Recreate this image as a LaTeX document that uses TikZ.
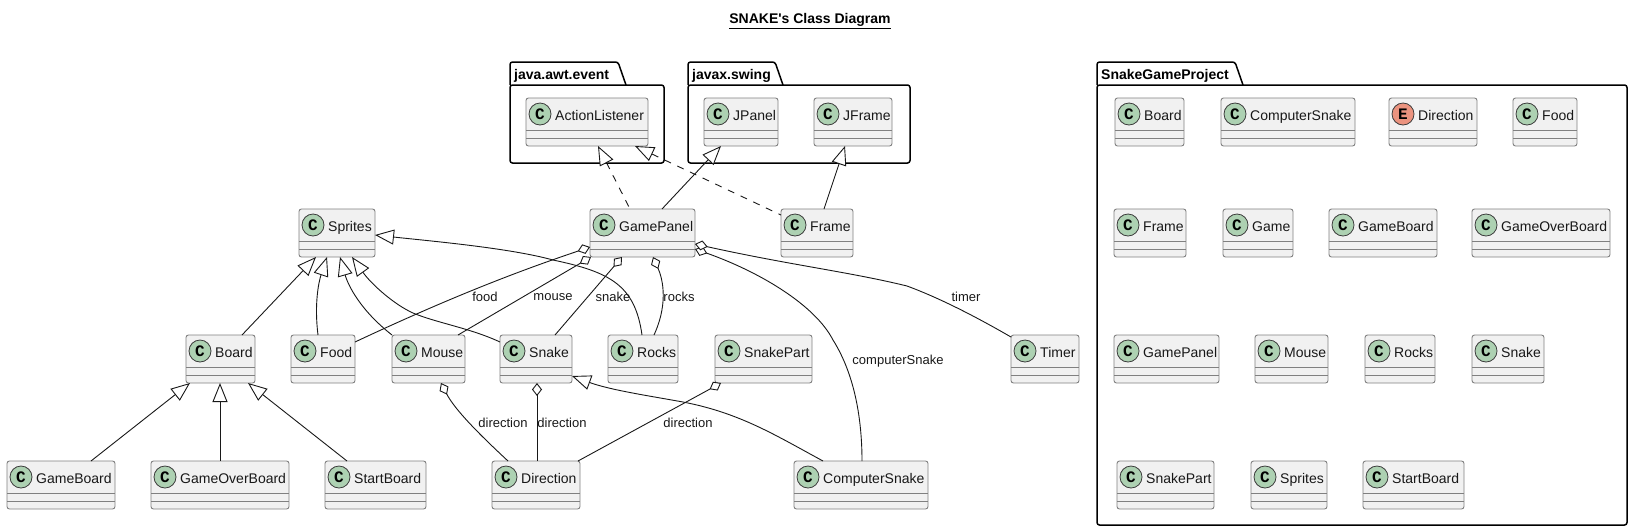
\documentclass[tikz,border=0pt]{standalone}
\usepackage{fontspec}
\setmainfont{Liberation Sans}
\newfontfamily\spotfont{Liberation Mono}
\usetikzlibrary{arrows.meta}
\definecolor{boxfill}{HTML}{F1F1F1}
\definecolor{boxline}{HTML}{808080}
\definecolor{ink}{HTML}{181818}
\definecolor{classspot}{HTML}{ADD1B2}
\definecolor{enumspot}{HTML}{EB937F}
\tikzstyle{class box}=[
    draw=boxline, fill=boxfill, line width=.9pt, rounded corners=2.5pt,
    anchor=north west, minimum height=48pt, inner sep=0pt, outer sep=0pt,
]
\tikzstyle{class rule}=[draw=boxline, line width=.9pt]
\tikzstyle{class spot}=[
    circle, draw=ink!85, line width=.8pt, minimum size=22pt, inner sep=0pt,
    font=\spotfont\bfseries\fontsize{16}{16}\selectfont,
]
\tikzstyle{class name}=[anchor=base west, inner sep=0pt, text=ink, font=\fontsize{14}{16}\selectfont]
\tikzstyle{package body}=[
    draw=black, line width=1.5pt, rounded corners=2.5pt,
    anchor=north west, inner sep=0pt, outer sep=0pt,
]
\tikzstyle{package name}=[anchor=base west, inner sep=0pt, text=black, font=\bfseries\fontsize{14}{16}\selectfont]
\tikzstyle{link}=[draw=ink, line width=.9pt]
\tikzstyle{inherit}=[link, {Triangle[length=19pt,width=15pt,fill=white]}-]
\tikzstyle{realize}=[inherit, dash pattern=on 7pt off 7pt]
\tikzstyle{aggregate}=[link, {Diamond[length=13pt,width=10pt,fill=white]}-]
\tikzstyle{link label}=[inner sep=0pt, text=ink, font=\fontsize{13}{15}\selectfont]
% id, text, left, right, top, letter, colour
\newcommand{\classnode}[7]{
    \node[class box, minimum width={(#4-#3)*1pt}] (#1) at (#3,#5) {};
    \draw[class rule] ([yshift=-32pt]#1.north west) -- ([yshift=-32pt]#1.north east);
    \draw[class rule] ([yshift=-40pt]#1.north west) -- ([yshift=-40pt]#1.north east);
    \node[class spot, fill=#7] (#1-spot) at ([xshift=14pt,yshift=-16pt]#1.north west) {#6};
    \node[class name] (#1-name) at ([xshift=29pt,yshift=-22pt]#1.north west) {#2};
}
% id, text, left, right, tab right, bottom
\newcommand{\packagenode}[6]{
    \draw[black, line width=1.5pt, rounded corners=2.5pt]
        (#3,85) -- (#3,62) -- (#5-8,62) -- (#5,85);
    \node[package body, minimum width={(#4-#3)*1pt}, minimum height={(#6-85)*1pt}] (#1) at (#3,85) {};
    \node[package name] (#1-name) at (#3+4,79) {#2};
}

\begin{document}
\begin{tikzpicture}[x=1pt, y=-1pt]
    \useasboundingbox (0,0) rectangle (1632,531);
    \node[inner sep=0pt, font=\bfseries\fontsize{14}{16}\selectfont] (title) at (810,21) {\underline{SNAKE\textquotesingle s Class Diagram}};

    % packages
    \packagenode{awt}{java.awt.event}{510}{664}{626}{163}
    \packagenode{swing}{javax.swing}{688}{910}{783}{163}
    \packagenode{project}{SnakeGameProject}{1097}{1627}{1243}{525}

    % classes
    \foreach \id/\txt/\xa/\xb/\ya in {
        ActionListener/ActionListener/526/648/98, JPanel/JPanel/704/778/98, JFrame/JFrame/814/892/98,
        Sprites/Sprites/299/375/209, GamePanel/GamePanel/590/695/209, Frame/Frame/781/853/209,
        Board/Board/186/255/335, Food/Food/291/355/335, Mouse/Mouse/392/465/335, Snake/Snake/500/572/335,
        Rocks/Rocks/608/678/335, SnakePart/SnakePart/715/812/335, Timer/Timer/1011/1079/335,
        GameBoard/GameBoard/7/115/461, GameOverBoard/GameOverBoard/151/289/461, StartBoard/StartBoard/325/426/461,
        Direction/Direction/492/580/461, ComputerSnake/ComputerSnake/794/928/461,
        pBoard/Board/1115/1184/98, pComputerSnake/ComputerSnake/1221/1355/98, pFood/Food/1513/1577/98,
        pFrame/Frame/1114/1186/209, pGame/Game/1223/1293/209, pGameBoard/GameBoard/1329/1437/209, pGameOverBoard/GameOverBoard/1472/1610/209,
        pGamePanel/GamePanel/1114/1219/335, pMouse/Mouse/1255/1328/335, pRocks/Rocks/1365/1435/335, pSnake/Snake/1472/1544/335,
        pSnakePart/SnakePart/1117/1214/461, pSprites/Sprites/1251/1327/461, pStartBoard/StartBoard/1363/1464/461
    } {
        \classnode{\id}{\txt}{\xa}{\xb}{\ya}{C}{classspot}
    }
    \classnode{pDirection}{Direction}{1389}{1477}{98}{E}{enumspot}

    % links
    \draw[realize] ([xshift=72pt]ActionListener.south west) -- ([xshift=40pt]GamePanel.north west);
    \draw[realize] ([xshift=109pt]ActionListener.south west) -- ([yshift=-6pt]Frame.north west);
    \draw[inherit] ([xshift=17pt]JPanel.south west) -- ([xshift=72pt]GamePanel.north west);
    \draw[inherit] ([xshift=31pt]JFrame.south west) -- ([xshift=43pt]Frame.north west);
    \draw[inherit] ([xshift=17pt]Sprites.south west) -- ([xshift=56pt]Board.north west);
    \draw[inherit] ([xshift=28pt]Sprites.south west) .. controls (319,281) and (314,303) .. ([xshift=27pt]Food.north west);
    \draw[inherit] ([xshift=41pt]Sprites.south west) .. controls (348,285) and (360,310) .. (Mouse.north west);
    \draw[inherit] ([xshift=53pt]Sprites.south west) .. controls (372,285) and (395,305) .. (413,313)
        .. controls (437,323) and (470,328) .. ([yshift=-7pt]Snake.north west);
    \draw[inherit] ([yshift=-26pt]Sprites.north east) .. controls (430,241) and (510,248) .. (553,260)
        .. controls (610,272) and (635,285) .. ([xshift=34pt]Rocks.north west);
    \draw[inherit] ([xshift=4pt]Board.south west) -- ([xshift=84pt]GameBoard.north west);
    \draw[inherit] ([xshift=34pt]Board.south west) -- ([xshift=69pt]GameOverBoard.north west);
    \draw[inherit] ([xshift=62pt]Board.south west) -- ([xshift=22pt]StartBoard.north west);
    \draw[inherit] ([yshift=7pt]Snake.south east) .. controls (610,390) and (650,396) .. (683,402)
        .. controls (740,413) and (775,435) .. ([xshift=29pt]ComputerSnake.north west);

    \draw[aggregate] ([yshift=-38pt]GamePanel.north west) .. controls (540,264) and (470,288) .. ([yshift=-7pt]Food.north east);
    \draw[aggregate] ([xshift=1pt]GamePanel.south west) -- ([xshift=66pt]Mouse.north west);
    \draw[aggregate] ([xshift=32pt]GamePanel.south west) -- ([xshift=55pt]Snake.north west);
    \draw[aggregate] ([xshift=63pt]GamePanel.south west) .. controls (661,275) and (670,300) .. ([xshift=46pt]Rocks.north west);
    \draw[aggregate] ([yshift=-40pt]GamePanel.north east) .. controls (760,272) and (815,305) .. (833,340)
        .. controls (855,375) and (862,420) .. ([xshift=68pt]ComputerSnake.north west);
    \draw[aggregate] ([yshift=-35pt]GamePanel.north east) .. controls (790,265) and (850,272) .. (907,286)
        .. controls (945,300) and (985,322) .. ([yshift=-2pt]Timer.north west);
    \draw[aggregate] ([xshift=49pt]Mouse.south west) .. controls (455,410) and (480,435) .. ([xshift=16pt]Direction.north west);
    \draw[aggregate] ([xshift=37pt]Snake.south west) -- ([xshift=45pt]Direction.north west);
    \draw[aggregate] ([xshift=6pt]SnakePart.south west) -- ([xshift=-2pt]Direction.north east);

    % link labels
    \node[link label] (lfood) at (485,297) {food};
    \node[link label] (lmouse) at (553,297) {mouse};
    \node[link label] (lsnake) at (613,297) {snake};
    \node[link label] (lrocks) at (679,297) {rocks};
    \node[link label] (ltimer) at (966,297) {timer};
    \node[link label] (lcomputer) at (898,361) {computerSnake};
    \node[link label] (ldirm) at (503,423) {direction};
    \node[link label] (ldirs) at (562,423) {direction};
    \node[link label] (ldirp) at (688,423) {direction};
\end{tikzpicture}
\end{document}
